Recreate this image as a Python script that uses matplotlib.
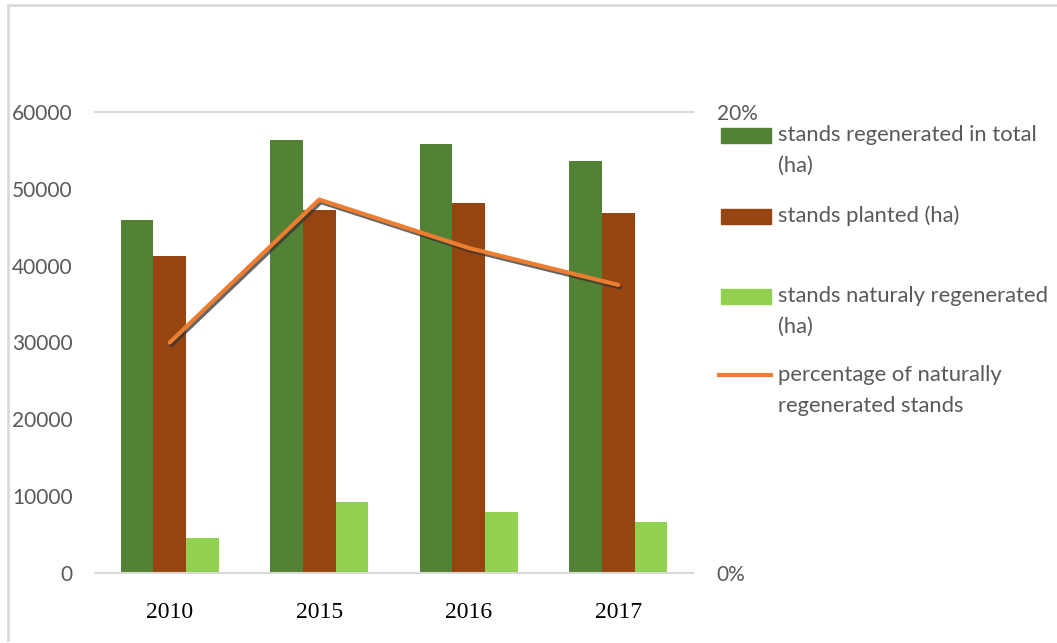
import matplotlib
matplotlib.use("Agg")
import matplotlib.pyplot as plt
import matplotlib.patheffects as pe
from matplotlib.lines import Line2D
from matplotlib.patches import Rectangle
from matplotlib.ticker import FuncFormatter
from matplotlib.transforms import ScaledTranslation

# data
years = ["2010", "2015", "2016", "2017"]
total_ha = [45900, 56400, 55900, 53600]
planted_ha = [41300, 47200, 48100, 46800]
natural_ha = [4600, 9200, 8000, 6700]
natural_pct = [10.0, 16.2, 14.1, 12.5]

series_labels = [
    "stands regenerated in total\n(ha)",
    "stands planted (ha)",
    "stands naturaly regenerated\n(ha)",
    "percentage of naturally\nregenerated stands",
]
c_total = "#548235"
c_planted = "#974510"
c_natural = "#92D050"
c_line = "#ED7D31"
c_text = "#595959"
c_grid = "#d9d9d9"

W, H = 1057, 643
fig = plt.figure(figsize=(W / 100, H / 100), dpi=100)
ax = fig.add_axes([95 / W, (H - 573) / H, 598 / W, 461 / H])

x = list(range(len(years)))
bw = 0.218
ax.bar([i - bw for i in x], total_ha, bw, color=c_total, zorder=2)
ax.bar(x, planted_ha, bw, color=c_planted, zorder=2)
ax.bar([i + bw for i in x], natural_ha, bw, color=c_natural, zorder=2)

ax.set_xlim(-0.5, len(years) - 0.5)
ax.set_ylim(0, 60000)
ax.set_yticks(range(0, 60001, 10000))
ax.set_xticks(x)
ax.set_xticklabels(years, fontsize=17, family="Liberation Serif", color="black")
# the year labels sit a little left of the bar groups in the original
shift = ScaledTranslation(-10 / 100, 0, fig.dpi_scale_trans)
for lab in ax.get_xticklabels():
    lab.set_transform(lab.get_transform() + shift)
ax.tick_params(axis="y", length=0, pad=16, labelsize=15, labelcolor=c_text)
ax.tick_params(axis="x", length=0, pad=21)
for lab in ax.get_yticklabels():
    lab.set_family("Lato")
for s in ("left", "right"):
    ax.spines[s].set_visible(False)
for s in ("top", "bottom"):
    ax.spines[s].set_color(c_grid)
    ax.spines[s].set_linewidth(1.5)

# secondary axis for the percentage line
ax2 = ax.twinx()
ax2.set_ylim(0, 20)
ax2.set_yticks([0, 20])
ax2.yaxis.set_major_formatter(FuncFormatter(lambda v, p: f"{v:.0f}%"))
ax2.tick_params(axis="y", length=0, pad=17, labelsize=15, labelcolor=c_text)
for lab in ax2.get_yticklabels():
    lab.set_family("Lato")
for s in ax2.spines.values():
    s.set_visible(False)
ax2.plot(x, natural_pct, color=c_line, lw=3, solid_capstyle="round",
         path_effects=[pe.SimpleLineShadow(offset=(1.2, -1.8), shadow_color="#333333", alpha=0.75),
                       pe.Normal()])

# legend drawn by hand to keep Excel's uneven spacing
handles = [("bar", c_total), ("bar", c_planted), ("bar", c_natural), ("line", c_line)]
entry_y = [135, 216, 296, 375]
line_gap = 31
for (kind, col), lbl, yy in zip(handles, series_labels, entry_y):
    fy = 1 - yy / H
    if kind == "bar":
        fig.patches.append(Rectangle((721 / W, fy - 7.5 / H), 50 / W, 15 / H,
                                     transform=fig.transFigure, color=col))
    else:
        fig.lines.append(Line2D([719 / W, 771 / W], [fy, fy], transform=fig.transFigure,
                                color=col, lw=3))
    for k, part in enumerate(lbl.split("\n")):
        fig.text(778 / W, 1 - (yy + k * line_gap) / H, part, ha="left", va="center",
                 fontsize=15.8, family="Lato", color=c_text)

# chart frame (left and top edges)
fig.lines.append(Line2D([8 / W, 8 / W], [1 - 5 / H, 1 - 640 / H], transform=fig.transFigure,
                        color=c_grid, lw=2))
fig.lines.append(Line2D([8 / W, 1], [1 - 5 / H, 1 - 5 / H], transform=fig.transFigure,
                        color=c_grid, lw=2))

fig.savefig("out.png", dpi=100)
plt.close(fig)
